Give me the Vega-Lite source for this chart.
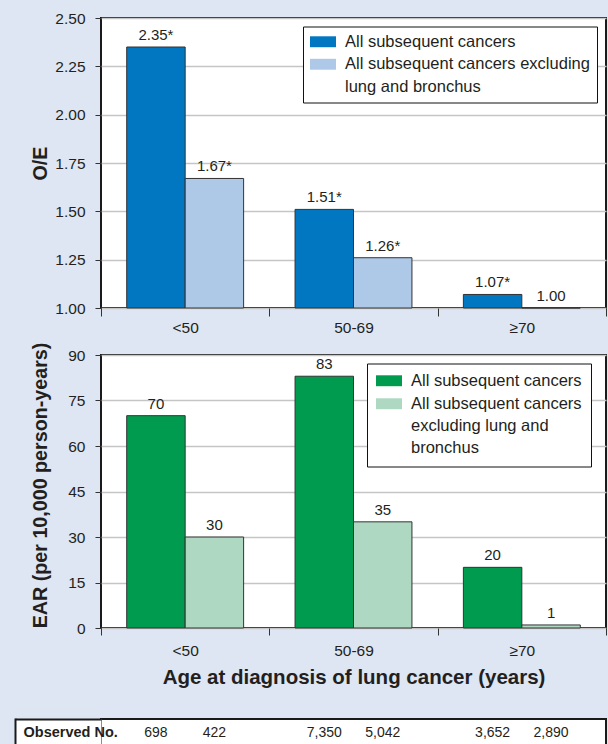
{
  "$schema": "https://vega.github.io/schema/vega-lite/v6.json",
  "background": "#dee6f3",
  "padding": {"left": 0, "top": 10, "right": 0, "bottom": 0},
  "config": {
    "font": "Liberation Sans",
    "view": {"fill": "white", "stroke": "#1a1a1a", "strokeWidth": 2},
    "style": {"guide-label": {"lineHeight": 22.3}},
    "axis": {
      "labelColor": "#231f20",
      "titleColor": "#231f20",
      "tickColor": "#333333",
      "labelFontSize": 15.5,
      "titleFontSize": 19.7,
      "titleFontWeight": "bold",
      "gridColor": "#c5c5c5",
      "gridWidth": 1.5,
      "domain": false
    }
  },
  "resolve": {
    "scale": {"x": "independent", "y": "independent", "color": "independent", "xOffset": "independent"},
    "legend": {"color": "independent"}
  },
  "spacing": 28,
  "vconcat": [
    {
      "spacing": 47,
      "bounds": "flush",
      "resolve": {
        "scale": {"x": "independent", "y": "independent", "color": "independent", "xOffset": "independent"},
        "legend": {"color": "independent"}
      },
      "vconcat": [
        {
          "width": 505,
          "height": 290,
          "data": {"values": [
            {"age": "<50", "series": "All subsequent cancers", "value": 2.35, "label": "2.35*"},
            {"age": "<50", "series": "All subsequent cancers excluding lung and bronchus", "value": 1.67, "label": "1.67*"},
            {"age": "50-69", "series": "All subsequent cancers", "value": 1.51, "label": "1.51*"},
            {"age": "50-69", "series": "All subsequent cancers excluding lung and bronchus", "value": 1.26, "label": "1.26*"},
            {"age": "≥70", "series": "All subsequent cancers", "value": 1.07, "label": "1.07*"},
            {"age": "≥70", "series": "All subsequent cancers excluding lung and bronchus", "value": 1.0, "label": "1.00"}
          ]},
          "encoding": {
            "x": {
              "field": "age", "type": "nominal", "sort": ["<50", "50-69", "≥70"],
              "scale": {"paddingInner": 0, "paddingOuter": 0},
              "axis": {"title": null, "labelAngle": 0, "tickBand": "extent", "tickSize": 8, "labelPadding": 4, "grid": false}
            },
            "xOffset": {
              "field": "series", "type": "nominal",
              "scale": {"paddingInner": 0, "paddingOuter": 0.44}
            },
            "y": {
              "field": "value", "type": "quantitative",
              "scale": {"domain": [1, 2.5], "zero": false, "nice": false},
              "axis": {"title": "O/E", "values": [1, 1.25, 1.5, 1.75, 2, 2.25, 2.5], "format": ".2f", "tickSize": 6, "labelPadding": 10, "titleX": -51}
            }
          },
          "layer": [
            {
              "mark": {"type": "bar", "stroke": "#333333", "strokeWidth": 1},
              "encoding": {
                "y2": {"datum": 1},
                "color": {
                  "field": "series", "type": "nominal",
                  "scale": {"domain": ["All subsequent cancers", "All subsequent cancers excluding lung and bronchus"], "range": ["#0077c0", "#aec9e8"]},
                  "legend": {
                    "orient": "none", "legendX": 202, "legendY": 8.5, "title": null,
                    "fillColor": "white", "strokeColor": "#111111", "padding": 7,
                    "symbolType": "M-2,-0.84H2V0.84H-2Z", "symbolSize": 169, "symbolStrokeWidth": 0, "symbolOffset": 4.75,
                    "rowPadding": 5.5, "labelOffset": 13.75, "labelFontSize": 16.5, "labelColor": "#231f20",
                    "labelLimit": 400, "labelBaseline": "middle",
                    "labelExpr": "datum.label == 'All subsequent cancers excluding lung and bronchus' ? ['All subsequent cancers excluding', 'lung and bronchus'] : datum.label",
                    "encode": {
                      "legend": {"update": {"strokeWidth": {"value": 2}}}
                    }
                  }
                }
              }
            },
            {
              "mark": {"type": "text", "dy": -7, "baseline": "alphabetic", "fontSize": 15, "color": "#231f20"},
              "encoding": {"text": {"field": "label"}}
            }
          ]
        },
        {
          "width": 505,
          "height": 273,
          "data": {"values": [
            {"age": "<50", "series": "All subsequent cancers", "value": 70, "label": "70"},
            {"age": "<50", "series": "All subsequent cancers excluding lung and bronchus", "value": 30, "label": "30"},
            {"age": "50-69", "series": "All subsequent cancers", "value": 83, "label": "83"},
            {"age": "50-69", "series": "All subsequent cancers excluding lung and bronchus", "value": 35, "label": "35"},
            {"age": "≥70", "series": "All subsequent cancers", "value": 20, "label": "20"},
            {"age": "≥70", "series": "All subsequent cancers excluding lung and bronchus", "value": 1, "label": "1"}
          ]},
          "encoding": {
            "x": {
              "field": "age", "type": "nominal", "sort": ["<50", "50-69", "≥70"],
              "scale": {"paddingInner": 0, "paddingOuter": 0},
              "axis": {"title": "Age at diagnosis of lung cancer (years)", "titleFontSize": 20.5, "titleY": 39, "titleBaseline": "top", "labelAngle": 0, "tickBand": "extent", "tickSize": 7, "labelPadding": 8, "grid": false}
            },
            "xOffset": {
              "field": "series", "type": "nominal",
              "scale": {"paddingInner": 0, "paddingOuter": 0.44}
            },
            "y": {
              "field": "value", "type": "quantitative",
              "scale": {"domain": [0, 90], "nice": false},
              "axis": {"title": "EAR (per 10,000 person-years)", "values": [0, 15, 30, 45, 60, 75, 90], "tickSize": 6, "labelPadding": 10, "titleX": -51, "titleY": 130}
            }
          },
          "layer": [
            {
              "mark": {"type": "bar", "stroke": "#333333", "strokeWidth": 1},
              "encoding": {
                "color": {
                  "field": "series", "type": "nominal",
                  "scale": {"domain": ["All subsequent cancers", "All subsequent cancers excluding lung and bronchus"], "range": ["#009b4e", "#aed8c1"]},
                  "legend": {
                    "orient": "none", "legendX": 266, "legendY": 8.5, "title": null,
                    "fillColor": "white", "strokeColor": "#111111", "padding": 9,
                    "symbolType": "M-2,-0.84H2V0.84H-2Z", "symbolSize": 169, "symbolStrokeWidth": 0, "symbolOffset": 4.75,
                    "rowPadding": 6, "labelOffset": 13.75, "labelFontSize": 16.5, "labelColor": "#231f20",
                    "labelLimit": 400, "labelBaseline": "middle",
                    "labelExpr": "datum.label == 'All subsequent cancers excluding lung and bronchus' ? ['All subsequent cancers', 'excluding lung and', 'bronchus'] : datum.label",
                    "encode": {
                      "legend": {"update": {"strokeWidth": {"value": 2}}}
                    }
                  }
                }
              }
            },
            {
              "mark": {"type": "text", "dy": -7, "baseline": "alphabetic", "fontSize": 15, "color": "#231f20"},
              "encoding": {"text": {"field": "label"}}
            }
          ]
        }
      ]
    },
    {
      "width": 505,
      "height": 28,
      "data": {"values": [
        {"row": "Observed No.", "age": "<50", "series": "All subsequent cancers", "observed": "698"},
        {"row": "Observed No.", "age": "<50", "series": "All subsequent cancers excluding lung and bronchus", "observed": "422"},
        {"row": "Observed No.", "age": "50-69", "series": "All subsequent cancers", "observed": "7,350"},
        {"row": "Observed No.", "age": "50-69", "series": "All subsequent cancers excluding lung and bronchus", "observed": "5,042"},
        {"row": "Observed No.", "age": "≥70", "series": "All subsequent cancers", "observed": "3,652"},
        {"row": "Observed No.", "age": "≥70", "series": "All subsequent cancers excluding lung and bronchus", "observed": "2,890"}
      ]},
      "resolve": {"axis": {"y": "independent"}},
      "encoding": {
        "x": {
          "field": "age", "type": "nominal", "sort": ["<50", "50-69", "≥70"],
          "scale": {"type": "band", "paddingInner": 0, "paddingOuter": 0},
          "axis": null
        },
        "xOffset": {
          "field": "series", "type": "nominal",
          "scale": {"type": "point", "padding": 0.94}
        },
        "y": {
          "field": "row", "type": "nominal",
          "scale": {"type": "band", "paddingInner": 0, "paddingOuter": 0}
        }
      },
      "layer": [
        {
          "mark": {"type": "text", "fontSize": 14, "color": "#231f20", "baseline": "middle", "align": "center"},
          "encoding": {
            "text": {"field": "observed"},
            "y": {"field": "row", "type": "nominal", "axis": {"orient": "left", "title": null, "domain": false, "grid": false, "ticks": true, "tickSize": 86, "tickWidth": 28, "tickColor": "white", "tickCap": "butt", "labelAlign": "left", "labelPadding": -8, "labelFontWeight": "bold", "labelFontSize": 14.5, "labelColor": "#231f20", "labelBaseline": "middle", "zindex": 0}}
          }
        },
        {
          "mark": {"type": "text", "text": ""},
          "encoding": {
            "y": {"field": "row", "type": "nominal", "axis": {"orient": "left", "title": null, "domain": false, "grid": false, "labels": false, "ticks": true, "tickBand": "extent", "tickSize": 86, "tickWidth": 2, "tickColor": "#1a1a1a", "zindex": 1}}
          }
        },
        {
          "mark": {"type": "text", "text": ""},
          "encoding": {
            "y": {"field": "row", "type": "nominal", "axis": {"orient": "left", "offset": 86, "title": null, "labels": false, "ticks": false, "domain": true, "domainColor": "#1a1a1a", "domainWidth": 2, "domainCap": "square", "grid": false, "zindex": 1}}
          }
        }
      ]
    }
  ]
}
